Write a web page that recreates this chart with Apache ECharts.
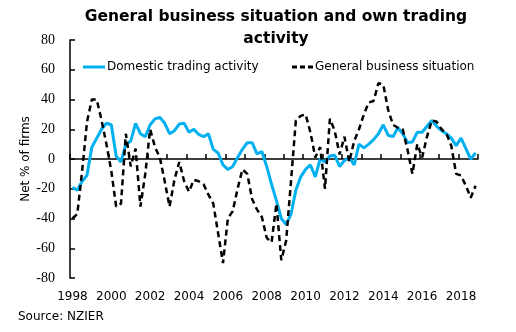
<!DOCTYPE html>
<html><head><meta charset="utf-8">
<script src="https://cdn.jsdelivr.net/npm/echarts@6/dist/echarts.min.js"></script>
<style>html,body{margin:0;padding:0;background:#fff}#c{width:516px;height:332px}</style>
</head><body><div id="c"></div>
<script>
const years = [1998,1999,2000,2001,2002,2003,2004,2005,2006,2007,2008,2009,2010,2011,2012,2013,2014,2015,2016,2017,2018];
const quarters = ['Q1','Q2','Q3','Q4'];
const categories = [];
years.forEach(function(y){ quarters.forEach(function(q){ categories.push(y + ' ' + q); }); });

const domestic = [
  -19,-21,-15,-11, 8,14,20,24, 23,2,-2,10,
  12,24,17,15, 23,27,28,24, 17,19,23.5,24,
  18,20,16.5,15, 17,6.5,4,-4, -7,-5,1,6.5,
  11,11,3.5,5, -5,-17,-28,-40, -44,-37,-21,-12,
  -7,-4,-12,0, -2,2,2.5,-5, -1,1,-4,10,
  7.5,10,13,17, 23,16,15,21, 17,11,11.5,18,
  18,22,26,22, 19,17,14,9, 14,7,0,4
];
const general = [
  -40,-37,-8,25, 40,40,26,10, -8,-32,-30,17,
  -5,7,-32,-10, 20,8,1,-15, -32,-14,-2,-15,
  -22,-14,-15,-17, -24,-30,-50,-70, -40,-35,-20,-7,
  -10,-27,-34,-39, -53,-56,-30,-68, -55,-15,26,29,
  30,18,1,8, -20,27,19,3, 15,-2,12,20,
  30,38,39,51, 50,33,23,21, 20,6,-10,10,
  1,15,26,25, 20,17,9,-10, -11,-18,-26,-18
];
const seriesNames = ['Domestic trading activity','General business situation'];
const titleText = 'General business situation and own trading\nactivity';
const yAxisName = 'Net % of firms';
const sourceText = 'Source: NZIER';

const legendText = {fontFamily: 'DejaVu Sans', fontSize: 12, color: '#000', padding: [0,0,0,-3]};
const chart = echarts.init(document.getElementById('c'));
chart.setOption({
  animation: false,
  backgroundColor: '#fff',
  title: {
    text: titleText,
    left: 271,
    top: 1,
    textAlign: 'center',
    textStyle: {fontFamily: 'DejaVu Sans', fontWeight: 'bold', fontSize: 15.5, color: '#000', lineHeight: 22}
  },
  legend: [{
    left: 78, top: 56,
    itemWidth: 22, itemHeight: 3,
    textStyle: legendText,
    data: [{name: seriesNames[0], icon: 'rect', itemStyle: {color: '#00B0F0'}}]
  },{
    left: 287, top: 56,
    itemWidth: 21, itemHeight: 3,
    textStyle: legendText,
    data: [{name: seriesNames[1], icon: 'path://M0,0h5v3h-5z M8,0h5v3h-5z M16,0h5v3h-5z', itemStyle: {color: '#000'}}]
  }],
  grid: {left: 70, right: 38, top: 40, bottom: 54},
  xAxis: [{
    type: 'category', data: categories, boundaryGap: true,
    axisLine: {show: false, onZero: false},
    axisTick: {show: false},
    axisLabel: {interval: 7, margin: 13, fontFamily: 'DejaVu Sans', fontSize: 12, color: '#000',
      formatter: function(v){ return v.slice(0,4); }},
    splitLine: {show: false}
  },{
    type: 'category', data: categories, boundaryGap: true, position: 'bottom',
    axisLine: {show: true, onZero: true, lineStyle: {color: '#000', width: 1.5}},
    axisTick: {show: true, inside: true, interval: 3, length: 5, lineStyle: {color: '#000', width: 1.5}},
    axisLabel: {show: false},
    splitLine: {show: false}
  }],
  yAxis: {
    type: 'value', min: -80, max: 80, interval: 20,
    name: yAxisName, nameLocation: 'middle', nameGap: 38, nameMoveOverlap: false,
    nameTextStyle: {fontFamily: 'DejaVu Sans', fontSize: 12, color: '#000'},
    axisLine: {show: true, lineStyle: {color: '#000', width: 1.5}},
    axisTick: {show: true, inside: true, length: 5, lineStyle: {color: '#000', width: 1.5}},
    axisLabel: {margin: 15, fontFamily: 'Liberation Serif', fontSize: 14, color: '#000'},
    splitLine: {show: false}
  },
  series: [{
    name: seriesNames[0], type: 'line', data: domestic, symbol: 'none', xAxisIndex: 0,
    lineStyle: {color: '#00B0F0', width: 3}, itemStyle: {color: '#00B0F0'}
  },{
    name: seriesNames[1], type: 'line', data: general, symbol: 'none', xAxisIndex: 0,
    lineStyle: {color: '#000', width: 2.5, type: [6,4]}, itemStyle: {color: '#000'}
  }],
  graphic: [{
    type: 'text', left: 18, top: 311,
    style: {text: sourceText, font: '12px "DejaVu Sans"', fill: '#000'}
  }]
});
</script></body></html>
